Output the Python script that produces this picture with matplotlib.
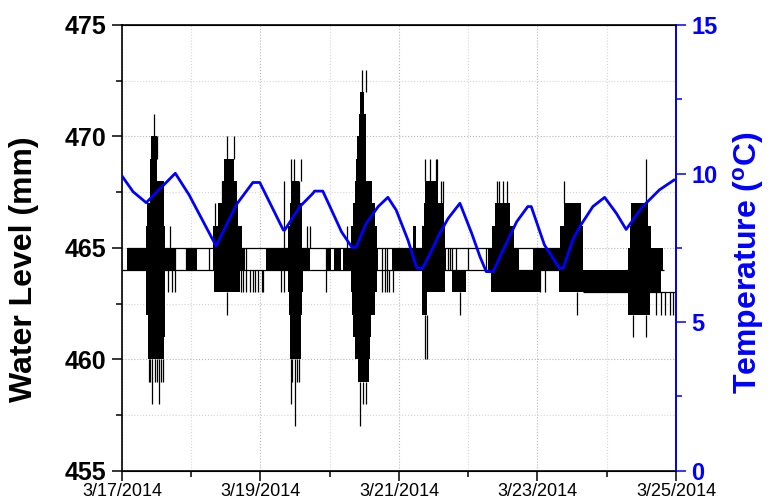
import numpy as np
import matplotlib
matplotlib.use('Agg')
import matplotlib.pyplot as plt
from matplotlib.ticker import MultipleLocator

plt.rcParams['font.family'] = ['Liberation Sans', 'DejaVu Sans']
plt.rcParams['mathtext.fontset'] = 'custom'
plt.rcParams['mathtext.rm'] = 'Liberation Sans'
plt.rcParams['mathtext.bf'] = 'Liberation Sans:bold'

# x values are days since 3/17/2014 00:00
DATE_TICKS = [0, 2, 4, 6, 8]
DATE_LABELS = ['3/17/2014', '3/19/2014', '3/21/2014', '3/23/2014', '3/25/2014']

# water level: dense oscillation blocks (start, end, low, high) in mm
blk_t0 = [0.07, 0.94, 0.35, 0.36, 0.41, 0.41, 0.42, 0.35, 0.35, 0.38, 0.38,
          1.32, 1.32, 1.39, 1.45, 1.47, 1.33,
          2.08, 2.40, 2.42, 2.44, 2.40, 2.41, 2.42, 2.43, 2.95, 3.06,
          3.19, 3.31, 3.34, 3.36, 3.38, 3.40, 3.42, 3.43, 3.31, 3.32, 3.34, 3.36, 3.41, 3.90,
          4.20, 4.33, 4.36, 4.37, 4.33, 4.76, 4.33,
          5.28, 5.35, 5.38, 5.33, 5.93, 5.67,
          6.31, 6.33, 6.39, 6.66,
          7.28, 7.31, 7.33, 7.35, 7.30]
blk_t1 = [0.77, 1.08, 0.62, 0.61, 0.60, 0.50, 0.50, 0.62, 0.62, 0.62, 0.60,
          1.78, 1.74, 1.68, 1.66, 1.62, 1.70,
          2.72, 2.60, 2.60, 2.56, 2.62, 2.60, 2.59, 2.58, 3.02, 3.17,
          3.70, 3.68, 3.65, 3.61, 3.53, 3.52, 3.52, 3.50, 3.68, 3.65, 3.60, 3.58, 3.56, 4.68,
          4.25, 4.66, 4.65, 4.56, 4.66, 4.97, 4.40,
          5.67, 5.66, 5.60, 6.03, 6.32, 5.73,
          6.66, 6.66, 6.63, 7.28,
          7.79, 7.81, 7.64, 7.59, 7.62]
blk_lo = [464, 464, 465, 466, 467, 468, 469, 463, 462, 461, 460,
          464, 465, 466, 467, 468, 463,
          464, 465, 466, 467, 463, 462, 461, 460, 464, 464,
          464, 465, 466, 467, 468, 469, 470, 471, 463, 462, 461, 460, 459, 464,
          465, 465, 466, 467, 463, 463, 462,
          464, 465, 466, 463, 464, 464,
          463, 465, 466, 463,
          463, 464, 465, 466, 462]
blk_hi = [465, 465, 466, 467, 468, 469, 470, 464, 463, 462, 461,
          465, 466, 467, 468, 469, 464,
          465, 466, 467, 468, 464, 463, 462, 461, 465, 465,
          465, 466, 467, 468, 469, 470, 471, 472, 464, 463, 462, 461, 460, 465,
          466, 466, 467, 468, 464, 464, 463,
          465, 466, 467, 464, 465, 465,
          465, 466, 467, 464,
          464, 465, 466, 467, 463]

# water level: isolated spikes (time, low, high)
spk_t = [0.46, 0.505, 0.70, 0.66, 0.72, 0.76, 0.39, 0.41, 0.44, 0.48, 0.51, 0.54, 0.57, 0.59, 0.92, 1.26,
         1.35, 1.40, 1.44, 1.51, 1.62, 1.51, 1.72, 1.75, 1.79, 1.85, 1.89, 1.92, 1.97, 2.02,
         2.03, 2.30, 2.34, 2.44, 2.48, 2.59, 2.55, 2.67, 2.71, 2.44, 2.50, 2.46, 2.53, 2.56, 2.94, 3.25,
         3.47, 3.52, 3.43, 3.48, 3.53, 3.75, 3.80, 3.82, 3.86, 3.92,
         4.37, 4.45, 4.53, 4.55, 4.60, 4.63, 4.38, 4.40, 4.88, 4.71, 4.73, 4.77, 4.82, 5.00, 5.26,
         5.41, 5.45, 5.50, 5.56,
         6.04, 6.11, 6.39, 6.57,
         7.56, 7.38, 7.56, 7.71, 7.79, 7.84, 7.91, 7.95]
spk_lo = [470, 469, 464, 463, 463, 463, 459, 459, 458, 459, 459, 458, 459, 459, 464, 464,
          465, 466, 467, 469, 469, 462, 463, 463, 463, 463, 463, 463, 463, 463,
          463, 463, 463, 468, 468, 468, 467, 465, 465, 458, 457, 459, 459, 459, 463, 464,
          472, 472, 457, 458, 458, 463, 463, 463, 463, 463,
          468, 468, 468, 468, 467, 467, 460, 460, 462, 464, 464, 464, 464, 464, 464,
          467, 467, 467, 467,
          463, 463, 467, 462,
          467, 461, 461, 462, 462, 462, 462, 462]
spk_hi = [471, 470, 466, 464, 464, 465, 460, 460, 460, 460, 460, 460, 460, 460, 465, 465,
          467, 467, 468, 470, 470, 463, 464, 464, 465, 464, 464, 464, 464, 464,
          464, 464, 468, 469, 469, 469, 468, 466, 466, 460, 460, 460, 460, 460, 465, 466,
          473, 473, 459, 459, 459, 465, 465, 465, 464, 464,
          469, 469, 469, 469, 468, 468, 462, 462, 463, 465, 465, 465, 465, 465, 465,
          468, 468, 468, 468,
          464, 464, 468, 463,
          469, 462, 462, 463, 463, 463, 463, 463]

# water level: resting levels (start, end, level)
lvl_t0 = [0.00, 0.07, 6.66, 7.28]
lvl_t1 = [6.66, 6.32, 8.00, 7.82]
lvl_y = [464, 465, 463, 464]

# temperature (deg C)
temp_t = [0.00, 0.16, 0.35, 0.77, 0.97, 1.36, 1.66, 1.89, 1.99, 2.33, 2.35, 2.57, 2.76, 2.78, 2.90,
          3.07, 3.17, 3.32, 3.38, 3.53, 3.70, 3.84, 3.96, 4.13, 4.25, 4.27, 4.34, 4.44, 4.59, 4.71,
          4.88, 5.05, 5.17, 5.26, 5.36, 5.55, 5.70, 5.86, 5.91, 6.10, 6.32, 6.37, 6.51, 6.61, 6.80,
          6.97, 7.14, 7.28, 7.52, 7.76, 7.97]
temp_c = [9.92, 9.39, 9.02, 10.01, 9.28, 7.56, 8.98, 9.70, 9.70, 8.10, 8.10, 8.89, 9.34, 9.41, 9.41,
          8.55, 8.04, 7.52, 7.52, 8.33, 8.89, 9.20, 8.77, 7.76, 6.87, 6.81, 6.81, 7.26, 7.99, 8.49,
          9.00, 7.99, 7.20, 6.70, 6.70, 7.65, 8.38, 8.89, 8.89, 7.60, 6.81, 6.81, 7.76, 8.21, 8.89,
          9.20, 8.66, 8.12, 8.89, 9.45, 9.78]


fig = plt.figure(figsize=(7.70, 5.03), dpi=100)
ax = fig.add_axes([0.1584, 0.0642, 0.7195, 0.8861])

blk_t0 = np.array(blk_t0)
blk_t1 = np.array(blk_t1)
blk_lo = np.array(blk_lo)
blk_hi = np.array(blk_hi)
ax.bar(blk_t0, blk_hi - blk_lo, width=blk_t1 - blk_t0, bottom=blk_lo,
       align='edge', color='black', linewidth=0, zorder=2)
ax.vlines(spk_t, spk_lo, spk_hi, color='black', linewidth=0.9, zorder=2)
ax.hlines(lvl_y, lvl_t0, lvl_t1, color='black', linewidth=0.9, zorder=2)

ax.set_xlim(0, 8)
ax.set_ylim(455, 475)
ax.set_xticks(DATE_TICKS)
ax.set_xticklabels(DATE_LABELS)
ax.xaxis.set_minor_locator(MultipleLocator(1))
ax.yaxis.set_major_locator(MultipleLocator(5))
ax.yaxis.set_minor_locator(MultipleLocator(2.5))

ax.grid(which='major', color='#b5b5b5', linestyle=':', linewidth=0.8, zorder=0)
ax.grid(which='minor', color='#d5d5d5', linestyle=':', linewidth=0.8, zorder=0)
ax.set_axisbelow(True)

ax.tick_params(axis='y', which='major', direction='out', length=7, width=1.1,
               labelsize=18, pad=4)
ax.tick_params(axis='y', which='minor', direction='out', length=4, width=1.1)
ax.tick_params(axis='x', which='major', direction='out', length=7, width=1.1,
               labelsize=13, pad=2)
ax.tick_params(axis='x', which='minor', direction='out', length=4, width=1.1)
for lab in ax.get_yticklabels():
    lab.set_fontweight('bold')
for sp in ax.spines.values():
    sp.set_linewidth(1.2)

ax2 = ax.twinx()
ax2.plot(temp_t, temp_c, color='blue', linewidth=2.0)
ax2.set_ylim(0, 15)
ax2.yaxis.set_major_locator(MultipleLocator(5))
ax2.yaxis.set_minor_locator(MultipleLocator(2.5))
ax2.spines['right'].set_color('blue')
ax2.spines['right'].set_linewidth(1.2)
ax2.spines['left'].set_visible(False)
ax2.tick_params(axis='y', which='major', colors='blue', direction='out', length=7,
                width=1.1, labelsize=17, pad=4)
ax2.tick_params(axis='y', which='minor', colors='blue', direction='out', length=4, width=1.1)
for lab in ax2.get_yticklabels():
    lab.set_fontweight('bold')

fig.text(24 / 770, 1 - 269 / 503, 'Water Level (mm)', rotation=90, ha='center', va='center',
         fontsize=23, fontweight='bold', color='black')
fig.text(748 / 770, 1 - 263 / 503, r'Temperature ($\mathbf{^{o}}$C)', rotation=90,
         ha='center', va='center', fontsize=23, fontweight='bold', color='blue')

fig.savefig('out.png', dpi=100)
